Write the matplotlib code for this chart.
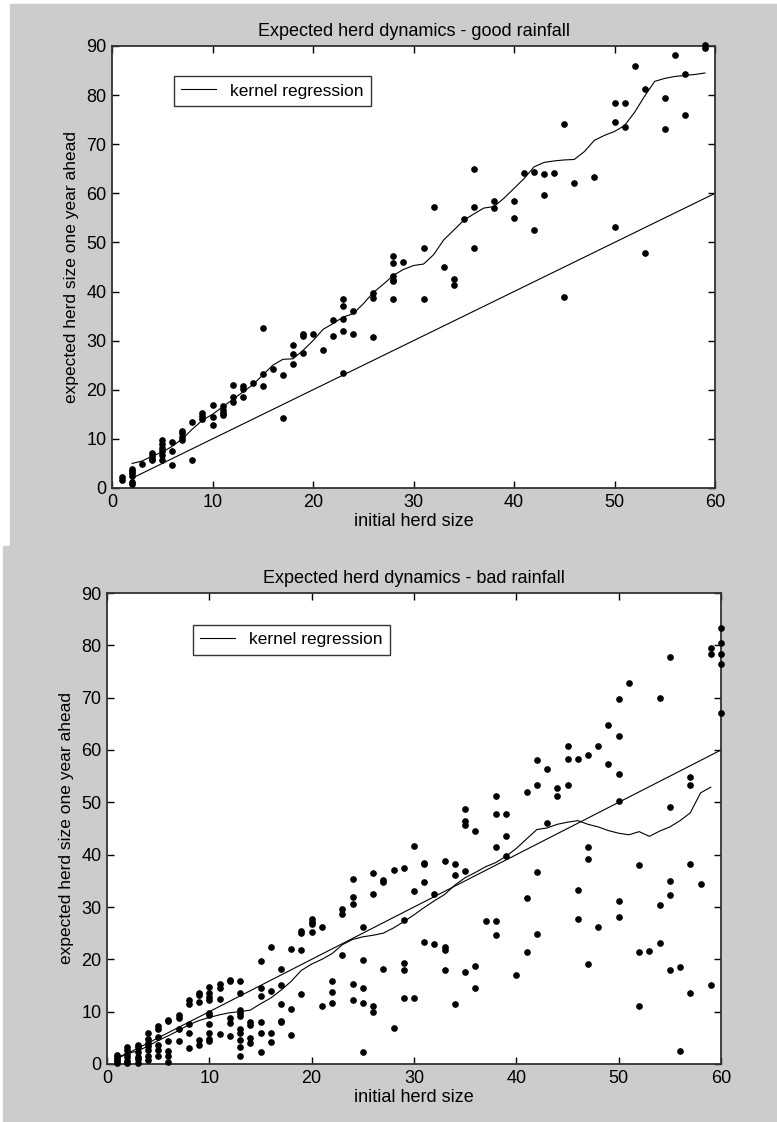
import matplotlib.pyplot as plt
from matplotlib.patches import Rectangle

# ---- data: good rainfall ----
good_x = [1, 1, 2, 2, 2, 2, 2, 2, 3, 4, 4, 4, 4, 5, 5, 5, 5, 5, 5, 6, 6, 6,
          7, 7, 7, 7, 8, 8, 9, 9, 9, 10, 10, 10, 11, 11, 11, 11, 12, 12, 12,
          13, 13, 13, 14, 15, 15, 15, 16, 17, 17, 18, 18, 18, 19, 19, 19, 20,
          21, 22, 22, 23, 23, 23, 23, 23, 24, 24, 26, 26, 26, 28, 28, 28, 28,
          28, 28, 29, 31, 31, 32, 33, 34, 34, 35, 36, 36, 36, 38, 38, 40, 40,
          41, 42, 42, 43, 43, 44, 45, 45, 46, 48, 50, 50, 50, 51, 51, 52, 53,
          53, 55, 55, 56, 57, 57, 59, 59]
good_y = [2.2, 1.6, 0.8, 1.2, 2.5, 3.0, 3.5, 3.9, 4.9, 7.1, 6.5, 6.0, 5.6,
          9.7, 8.9, 8.2, 7.5, 6.8, 5.8, 9.3, 7.5, 4.6, 11.6, 11.1, 10.4, 9.7,
          13.4, 5.7, 15.3, 14.7, 14.0, 16.8, 14.4, 12.9, 16.6, 15.8, 15.3,
          14.8, 20.9, 18.6, 17.5, 20.7, 20.2, 18.6, 21.4, 32.6, 23.3, 20.7,
          24.3, 23.1, 14.2, 29.1, 27.3, 25.3, 31.3, 30.9, 27.5, 31.3, 28.1,
          34.2, 31.0, 38.5, 37.1, 34.4, 32.0, 23.5, 36.0, 31.3, 39.7, 38.7,
          30.7, 47.2, 45.9, 43.1, 42.4, 42.2, 38.4, 46.0, 48.8, 38.4, 57.3,
          44.9, 42.5, 41.3, 54.7, 64.9, 57.3, 48.8, 58.4, 57.0, 58.4, 54.9,
          64.1, 64.3, 52.5, 63.9, 59.6, 64.1, 74.1, 38.8, 62.2, 63.3, 78.3,
          74.6, 53.1, 78.3, 73.6, 86.0, 81.2, 47.8, 79.4, 73.1, 88.1, 84.4,
          76.0, 90.3, 89.5]
good_kx = list(range(2, 60))
good_ky = [5.0, 5.5, 6.5, 7.3, 8.5, 10.0, 12.0, 13.8, 15.0, 16.5, 18.0, 19.5,
           21.0, 23.0, 25.0, 26.2, 26.3, 28.0, 30.0, 32.3, 33.5, 34.8, 35.5,
           37.5, 39.8, 41.5, 43.3, 44.5, 45.3, 45.6, 47.5, 50.5, 52.5, 54.5,
           55.8, 57.0, 57.3, 59.0, 61.0, 63.0, 65.4, 66.3, 66.6, 66.8, 66.9,
           68.5, 70.8, 71.8, 72.6, 73.8, 76.5, 79.8, 82.8, 83.4, 83.8, 84.0,
           84.2, 84.5]
good_diag = [2, 60]

# ---- data: bad rainfall ----
bad_x = [1, 1, 1, 1, 1, 2, 2, 2, 2, 2, 2, 3, 3, 3, 3, 3, 3,
         4, 4, 4, 4, 4, 4, 4, 5, 5, 5, 5, 5, 5, 6, 6, 6, 6, 6, 6,
         7, 7, 7, 7, 8, 8, 8, 8, 8, 9, 9, 9, 9, 9,
         10, 10, 10, 10, 10, 10, 10, 10, 10, 10, 11, 11, 11, 11,
         12, 12, 12, 12, 12, 13, 13, 13, 13, 13, 13, 13, 13, 13, 13,
         14, 14, 14, 14, 15, 15, 15, 15, 15, 15, 16, 16, 16, 16,
         17, 17, 17, 17, 17, 18, 18, 18, 19, 19, 19, 19, 20, 20, 20, 20,
         21, 21, 22, 22, 22, 23, 23, 23, 24, 24, 24, 24, 24,
         25, 25, 25, 25, 25, 26, 26, 26, 26, 27, 27, 27, 28, 28,
         29, 29, 29, 29, 29, 30, 30, 30, 31, 31, 31, 31, 32, 32,
         33, 33, 33, 33, 34, 34, 34, 35, 35, 35, 35, 35, 36, 36, 36, 37,
         38, 38, 38, 38, 38, 39, 39, 39, 40, 41, 41, 41, 42, 42, 42, 42,
         43, 43, 44, 44, 45, 45, 45, 46, 46, 46, 47, 47, 47, 47, 48, 48,
         49, 49, 50, 50, 50, 50, 50, 50, 51, 52, 52, 52, 53, 54, 54, 54,
         55, 55, 55, 55, 55, 56, 56, 57, 57, 57, 57, 58, 59, 59, 59,
         60, 60, 60, 60, 60]
bad_y = [1.8, 1.3, 0.9, 0.5, 0.2, 3.2, 2.7, 2.0, 1.3, 0.6, 0.2,
         3.7, 3.2, 2.3, 1.3, 0.9, 0.2, 5.9, 4.8, 4.1, 3.4, 2.7, 1.6, 0.7,
         7.3, 6.6, 5.2, 3.7, 2.7, 1.6, 8.5, 8.2, 4.3, 2.5, 1.6, 0.4,
         9.4, 8.7, 6.6, 4.3, 12.2, 11.5, 7.6, 5.9, 3.0,
         13.5, 13.1, 11.9, 4.5, 3.7,
         14.7, 13.6, 12.8, 12.2, 9.8, 9.4, 7.6, 5.9, 4.8, 4.3,
         15.2, 14.5, 12.4, 5.7, 16.1, 15.8, 8.7, 7.9, 5.4,
         15.9, 13.5, 10.3, 9.8, 9.1, 6.7, 6.0, 4.5, 3.2, 1.6,
         8.0, 7.4, 5.0, 4.1, 19.6, 14.5, 12.9, 8.0, 6.0, 2.3,
         22.3, 14.0, 6.0, 4.2, 18.2, 15.1, 11.4, 8.3, 8.0,
         21.9, 10.6, 5.5, 25.5, 25.1, 21.7, 13.3, 27.7, 27.2, 26.7, 25.3,
         26.2, 11.1, 15.9, 13.8, 11.7, 29.7, 28.6, 20.9,
         35.4, 32.0, 30.6, 15.2, 12.2, 26.2, 19.8, 14.6, 11.7, 2.2,
         36.5, 32.5, 11.0, 9.9, 35.2, 34.7, 18.2, 37.0, 6.9,
         37.4, 27.6, 19.3, 18.0, 12.7, 41.7, 33.1, 12.7,
         38.5, 38.3, 34.7, 23.3, 32.5, 23.0, 38.8, 22.3, 21.8, 18.0,
         38.3, 36.1, 11.5, 48.8, 46.5, 45.7, 36.8, 17.5, 44.6, 18.7, 14.6,
         27.4, 51.2, 47.7, 41.4, 27.3, 24.6, 47.7, 43.6, 39.7, 17.0,
         52.0, 31.7, 21.4, 58.1, 53.3, 36.6, 24.8, 56.4, 46.0, 52.8, 51.2,
         60.7, 58.3, 53.3, 58.3, 33.3, 27.8, 59.1, 41.5, 39.1, 19.1,
         60.8, 26.2, 64.7, 57.3, 69.7, 62.6, 55.4, 50.2, 31.2, 28.0, 72.8,
         38.0, 21.4, 11.1, 21.6, 69.9, 30.4, 23.1,
         77.8, 49.2, 34.9, 32.2, 18.0, 18.5, 2.5, 54.9, 53.3, 38.3, 13.5,
         34.3, 79.4, 78.4, 15.1, 83.3, 80.5, 78.4, 76.4, 67.0]
bad_kx = list(range(1, 60))
bad_ky = [1.3, 2.0, 2.5, 3.4, 4.5, 5.4, 6.4, 7.5, 8.3, 8.9, 9.4, 9.8, 10.0,
          10.3, 11.5, 12.6, 14.1, 15.8, 17.9, 19.1, 20.0, 21.1, 22.8, 23.8,
          24.3, 24.6, 25.0, 26.0, 27.2, 28.5, 29.9, 31.2, 32.4, 34.2, 35.6,
          36.6, 37.7, 38.5, 39.7, 41.2, 43.0, 44.8, 45.1, 45.8, 46.2, 46.5,
          45.8, 45.3, 44.6, 44.1, 43.8, 44.4, 43.5, 44.5, 45.3, 46.5, 48.0,
          51.8, 52.9]
bad_diag = [1, 60]

xticks = [0, 10, 20, 30, 40, 50, 60]
yticks = [0, 10, 20, 30, 40, 50, 60, 70, 80, 90]

plt.rcParams['font.family'] = ['Liberation Sans', 'DejaVu Sans']

W, H = 777, 1122
fig = plt.figure(figsize=(W / 100, H / 100), dpi=100, facecolor='white')

# gray figure backgrounds of the two screenshots
fig.patches.append(Rectangle((10 / W, 1 - 546 / H), 767 / W, 542 / H,
                             transform=fig.transFigure, color='#cccccc', zorder=-10))
fig.patches.append(Rectangle((3 / W, 0), 774 / W, 576 / H,
                             transform=fig.transFigure, color='#cccccc', zorder=-10))


def panel(rect, sx, sy, kx, ky, diag, title, leg_anchor):
    ax = fig.add_axes(rect)
    ax.set_zorder(5)
    ax.set_facecolor('white')
    ax.plot(sx, sy, 'o', color='black', markersize=3.8, clip_on=False, zorder=3)
    ax.plot(kx, ky, '-', color='black', linewidth=0.8, label='kernel regression')
    ax.plot(diag, diag, '-', color='black', linewidth=0.8)
    ax.set_xlim(0, 60)
    ax.set_ylim(0, 90)
    ax.set_xticks(xticks)
    ax.set_yticks(yticks)
    ax.tick_params(direction='in', length=5, width=1, top=True, right=True,
                   labelsize=13, pad=4, colors='black')
    for s in ax.spines.values():
        s.set_linewidth(1.3)
        s.set_color('#333333')
    ax.set_title(title, fontsize=13, pad=7)
    ax.set_xlabel('initial herd size', fontsize=13, labelpad=2)
    ax.set_ylabel('expected herd size one year ahead', fontsize=12.5, labelpad=5)
    leg = ax.legend(loc='upper left', bbox_to_anchor=leg_anchor, fontsize=12.5,
                    frameon=True, fancybox=False, borderaxespad=0,
                    handlelength=2.0, borderpad=0.42, handletextpad=0.8)
    leg.get_frame().set_edgecolor('black')
    leg.get_frame().set_linewidth(1.0)
    return ax


panel([112 / W, 1 - 488 / H, 603 / W, 442 / H], good_x, good_y, good_kx, good_ky,
      good_diag, 'Expected herd dynamics - good rainfall', (0.103, 0.932))
panel([107 / W, 1 - 1064 / H, 614 / W, 471 / H], bad_x, bad_y, bad_kx, bad_ky,
      bad_diag, 'Expected herd dynamics - bad rainfall', (0.140, 0.932))

fig.savefig('out.png', dpi=100, facecolor=fig.get_facecolor())
